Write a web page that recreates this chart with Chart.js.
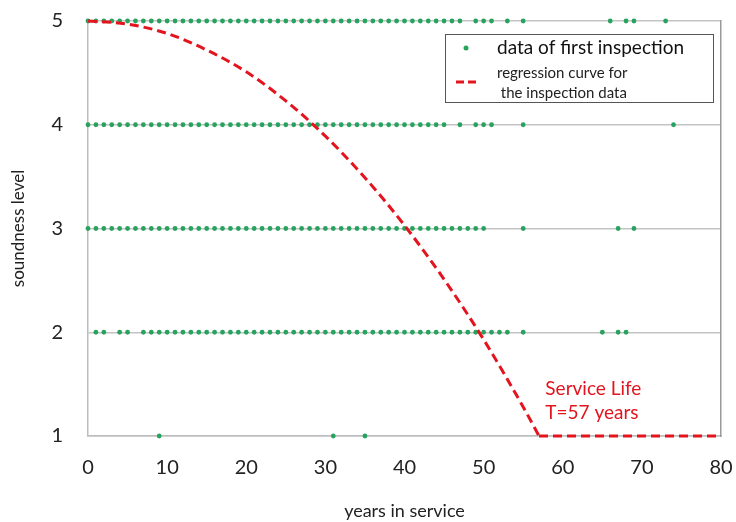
<!DOCTYPE html>
<html>
<head>
<meta charset="utf-8">
<script src="https://cdn.jsdelivr.net/npm/chart.js@4.4.1/dist/chart.umd.min.js"></script>
<style>
  html, body { margin: 0; padding: 0; background: #fff; }
  #wrap { width: 736px; height: 522px; position: relative; }
</style>
</head>
<body>
<div id="wrap"><canvas id="chart" width="736" height="522"></canvas></div>
<script>
// inspection years observed at each soundness level
const level5Years = [0,1,2,3,4,5,6,7,8,9,10,11,12,13,14,15,16,17,18,19,20,21,22,23,24,25,26,27,28,29,30,31,32,33,34,35,36,37,38,39,40,41,42,43,44,45,46,47,49,50,51,53,55,66,68,69,73];
const level4Years = [0,1,2,3,4,5,6,7,8,9,10,11,12,13,14,15,16,17,18,19,20,21,22,23,24,25,26,27,28,29,30,31,32,33,34,35,36,37,38,39,40,41,42,43,44,45,47,49,50,51,55,74];
const level3Years = [0,1,2,3,4,5,6,7,8,9,10,11,12,13,14,15,16,17,18,19,20,21,22,23,24,25,26,27,28,29,30,31,32,33,34,35,36,37,38,39,40,41,42,43,44,45,46,47,48,49,50,55,67,69];
const level2Years = [1,2,4,5,7,8,9,10,11,12,13,14,15,16,17,18,19,20,21,22,23,24,25,26,27,28,29,30,31,32,33,34,35,36,37,38,39,40,41,42,43,44,45,46,47,48,49,50,51,52,53,55,65,67,68];
const level1Years = [9,31,35];

const curveYears = [0, 5, 10, 15, 20, 25, 30, 35, 40, 45, 50, 55, 57];
const curveLevel = [5, 4.97, 4.88, 4.72, 4.51, 4.23, 3.89, 3.49, 3.03, 2.51, 1.93, 1.28, 1.0];
const tailYears = [57, 80];
const tailLevel = [1, 1];

const xTicks = [0, 10, 20, 30, 40, 50, 60, 70, 80];
const yTicks = [1, 2, 3, 4, 5];

const green = '#27a35f';
const red = '#e3141e';
const font = 'Lato, "Open Sans", sans-serif';

const dots = [];
[[5, level5Years], [4, level4Years], [3, level3Years], [2, level2Years], [1, level1Years]].forEach(([lv, years]) => {
    years.forEach(x => dots.push({ x: x, y: lv }));
});

// keep tick labels from pushing the plot area in
function noOverflow(s) {
    s.paddingTop = 0;
    s.paddingBottom = 0;
    s.paddingLeft = 0;
    s.paddingRight = 0;
}

const extras = {
    id: 'extras',
    afterDraw(chart) {
        const ctx = chart.ctx;
        const xs = chart.scales.x, ys = chart.scales.y;
        ctx.save();

        // service life note
        ctx.fillStyle = red;
        ctx.font = '19px ' + font;
        ctx.textBaseline = 'middle';
        ctx.textAlign = 'left';
        ctx.fillText('Service Life', xs.getPixelForValue(57.8), ys.getPixelForValue(1.45));
        ctx.fillText('T=57 years', xs.getPixelForValue(57.8), ys.getPixelForValue(1.22));

        // legend box
        const bx = 445, by = 34, bw = 268, bh = 68;
        ctx.fillStyle = '#fff';
        ctx.fillRect(bx, by, bw, bh);
        ctx.strokeStyle = '#555';
        ctx.lineWidth = 1;
        ctx.strokeRect(bx + 0.5, by + 0.5, bw, bh);

        ctx.fillStyle = green;
        ctx.beginPath();
        ctx.arc(466, 48, 2.5, 0, Math.PI * 2);
        ctx.fill();

        ctx.strokeStyle = red;
        ctx.lineWidth = 3;
        ctx.setLineDash([8, 4]);
        ctx.beginPath();
        ctx.moveTo(456, 82);
        ctx.lineTo(480, 82);
        ctx.stroke();
        ctx.setLineDash([]);

        ctx.fillStyle = '#111';
        ctx.font = '19px ' + font;
        ctx.fillText('data of first inspection', 497, 48);
        ctx.font = '15px ' + font;
        ctx.fillStyle = '#222';
        ctx.fillText('regression curve for', 497, 73);
        ctx.fillText(' the inspection data', 497, 93);

        ctx.restore();
    }
};

const lineStyle = {
    type: 'line',
    borderColor: red,
    borderWidth: 3,
    borderDash: [9, 5],
    pointRadius: 0,
    fill: false,
    clip: false,
    order: 1
};

new Chart(document.getElementById('chart'), {
    type: 'scatter',
    data: {
        datasets: [
            Object.assign({}, lineStyle, {
                data: curveYears.map((x, i) => ({ x: x, y: curveLevel[i] })),
                cubicInterpolationMode: 'monotone'
            }),
            Object.assign({}, lineStyle, {
                data: tailYears.map((x, i) => ({ x: x, y: tailLevel[i] }))
            }),
            {
                data: dots,
                backgroundColor: green,
                borderWidth: 0,
                pointRadius: 2.4,
                clip: false,
                order: 2
            }
        ]
    },
    options: {
        responsive: false,
        animation: false,
        layout: { padding: { top: 21, right: 15, left: 0, bottom: 0 } },
        plugins: { legend: { display: false }, tooltip: { enabled: false } },
        scales: {
            x: {
                type: 'linear',
                min: 0, max: 80,
                afterBuildTicks: s => { s.ticks = xTicks.map(v => ({ value: v })); },
                afterFit: s => { s.height = 86; noOverflow(s); },
                ticks: { color: '#222', font: { family: font, size: 20 }, padding: 20 },
                grid: { display: false, drawTicks: false },
                border: { display: true, color: '#bdbdbd', width: 1.5 },
                title: { display: true, text: 'years in service', color: '#222', font: { family: font, size: 18 }, padding: { top: 12, bottom: 0 } }
            },
            y: {
                min: 1, max: 5,
                afterBuildTicks: s => { s.ticks = yTicks.map(v => ({ value: v })); },
                afterFit: s => { s.width = 88; noOverflow(s); },
                ticks: { color: '#222', font: { family: font, size: 20 }, padding: 25 },
                grid: { color: '#c4c4c4', lineWidth: 1.5, drawTicks: false },
                border: { display: true, color: '#bdbdbd', width: 1.5 },
                title: { display: true, text: 'soundness level', color: '#222', font: { family: font, size: 17 }, padding: { top: 8, bottom: 10 } }
            },
            y2: {
                position: 'right',
                min: 1, max: 5,
                afterFit: s => { s.width = 0; noOverflow(s); },
                ticks: { display: false },
                grid: { display: false, drawTicks: false },
                border: { display: true, color: '#9a9a9a', width: 1.5 }
            }
        }
    },
    plugins: [extras]
});
</script>
</body>
</html>
